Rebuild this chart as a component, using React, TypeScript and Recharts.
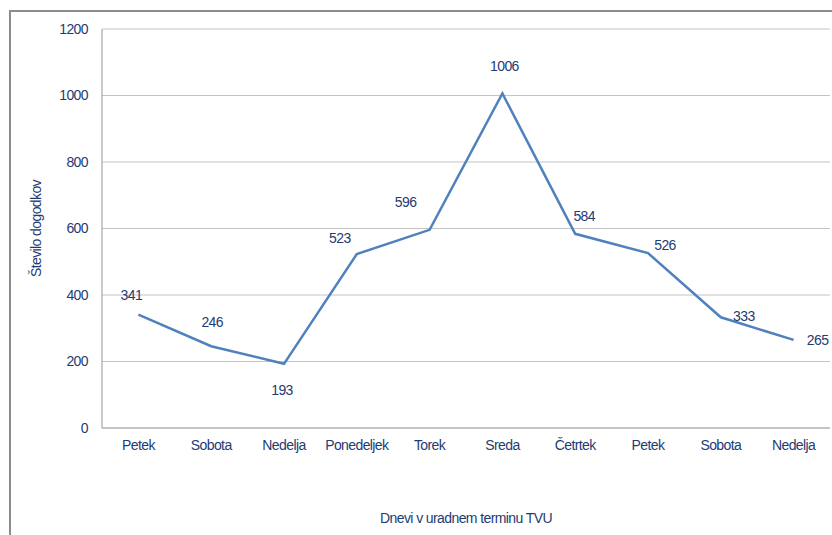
import React from "react";
import { LineChart, Line, XAxis, YAxis, CartesianGrid } from "recharts";

const days = ["Petek", "Sobota", "Nedelja", "Ponedeljek", "Torek", "Sreda", "Četrtek", "Petek", "Sobota", "Nedelja"];
const counts = [341, 246, 193, 523, 596, 1006, 584, 526, 333, 265];
const yTicks = [0, 200, 400, 600, 800, 1000, 1200];

// where each value label sits relative to its point
const labelOffsets: [number, number][] = [
  [-7, -20], [1, -24], [-2, 26], [-17, -16], [-24, -28],
  [2, -28], [9, -18], [17, -8], [23, -1], [24, 0],
];

const TEXT = "#1f3b73";
const FONT = "'Liberation Sans', Arial, sans-serif";
const FS = 14;
const LS = -0.6;

const data = days.map((day, i) => ({ key: i, day, count: counts[i] }));

function ValueLabel(props: any) {
  const { x, y, value, index } = props;
  const [dx, dy] = labelOffsets[index] || [0, -15];
  return (
    <text x={x + dx} y={y + dy} textAnchor="middle" dominantBaseline="central" fill={TEXT} fontSize={FS} fontFamily={FONT} letterSpacing={LS}>
      {value}
    </text>
  );
}

const tickStyle = { fill: TEXT, fontSize: FS, fontFamily: FONT, letterSpacing: LS };

export default function App() {
  return (
    <div style={{ position: "absolute", left: 0, top: 0, width: 832, height: 535, background: "#fff", overflow: "hidden" }}>
      <div style={{ position: "absolute", left: 9, top: 10, width: 830, height: 540, borderLeft: "2px solid #8c8c8c", borderTop: "2px solid #8c8c8c" }} />
      <div style={{ position: "absolute", left: 0, top: 0 }}>
        <LineChart width={832} height={535} data={data} margin={{ top: 29, right: 2, left: 0, bottom: 0 }}>
          <CartesianGrid vertical={false} stroke="#c4c4c4" strokeWidth={1.2} />
          <XAxis
            dataKey="key"
            tickFormatter={(i) => days[i]}
            height={107}
            padding={{ left: 36.4, right: 36.4 }}
            tickLine={false}
            axisLine={{ stroke: "#a8a8a8", strokeWidth: 1.2 }}
            tickSize={0}
            tickMargin={12}
            interval={0}
            tick={tickStyle}
            label={{ value: "Dnevi v uradnem terminu TVU", position: "insideBottom", offset: 12, ...tickStyle }}
          />
          <YAxis
            width={102}
            domain={[0, 1200]}
            ticks={yTicks}
            tickLine={false}
            axisLine={{ stroke: "#a8a8a8", strokeWidth: 1.2 }}
            tickSize={0}
            tickMargin={14}
            tick={tickStyle}
            label={{ value: "Število dogodkov", angle: -90, position: "insideLeft", offset: 36, ...tickStyle, style: { textAnchor: "middle" } }}
          />
          <Line
            type="linear"
            dataKey="count"
            stroke="#4f81bd"
            strokeWidth={2.5}
            dot={false}
            isAnimationActive={false}
            label={<ValueLabel />}
          />
        </LineChart>
      </div>
    </div>
  );
}
